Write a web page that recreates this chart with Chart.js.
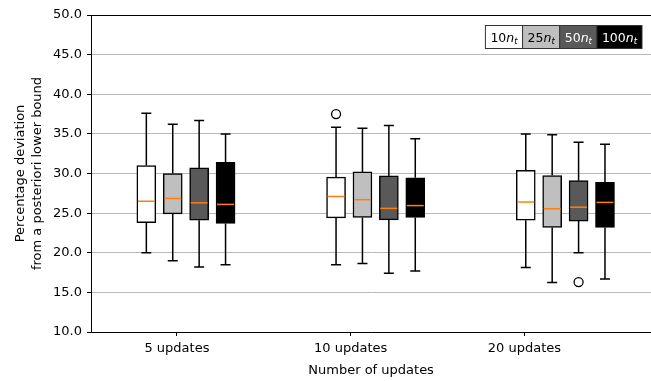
<!DOCTYPE html>
<html>
<head>
<meta charset="utf-8">
<script src="https://cdn.jsdelivr.net/npm/chart.js@4.4.1/dist/chart.umd.min.js"></script>
<style>
  html, body { margin: 0; padding: 0; background: #fff; overflow: hidden; }
  #wrap { width: 651px; height: 381px; overflow: hidden; }
</style>
</head>
<body>
<div id="wrap"><canvas id="chart" width="657" height="381"></canvas></div>
<script>
// Categorías y series
const categories = ['5 updates', '10 updates', '20 updates'];
const seriesNames = ['10', '25', '50', '100'];
const yTicks = [10, 15, 20, 25, 30, 35, 40, 45, 50];

// Estadísticos de cada caja, [serie][grupo]
const lowWhisker = [[20.0, 18.5, 18.15], [19.0, 18.65, 16.25], [18.2, 17.4, 20.0], [18.5, 17.7, 16.7]];
const q1 = [[23.8, 24.4, 24.1], [24.9, 24.45, 23.2], [24.1, 24.15, 24.0], [23.7, 24.45, 23.2]];
const median = [[26.5, 27.1, 26.4], [26.85, 26.7, 25.55], [26.3, 25.6, 25.75], [26.1, 25.95, 26.35]];
const q3 = [[31.0, 29.55, 30.4], [30.0, 30.2, 29.75], [30.7, 29.7, 29.1], [31.4, 29.45, 28.9]];
const highWhisker = [[37.6, 35.85, 35.0], [36.2, 35.7, 34.9], [36.7, 36.05, 33.95], [35.0, 34.4, 33.7]];

// Valores atípicos
const outlierSeries = [0, 2];
const outlierGroup = [1, 2];
const outlierValue = [37.5, 16.3];

const fills = ['#ffffff', '#bfbfbf', '#595959', '#000000'];
const textColors = ['#000000', '#000000', '#ffffff', '#ffffff'];
const FONT = 'DejaVu Sans';

// posición de cada caja en el eje x
function boxPos(s, g) {
    return 0.824 + g * 1.092 + s * 0.152;
}

const datasets = seriesNames.map(function(name, s) {
    return {
        type: 'bar',
        label: name,
        data: categories.map(function(c, g) { return { x: boxPos(s, g), y: [q1[s][g], q3[s][g]] }; }),
        backgroundColor: fills[s],
        borderColor: '#000000',
        borderWidth: 1.5,
        borderSkipped: false,
        barThickness: 19,
        grouped: false
    };
});

datasets.push({
    type: 'scatter',
    label: 'outliers',
    data: outlierValue.map(function(v, i) { return { x: boxPos(outlierSeries[i], outlierGroup[i]), y: v }; }),
    pointRadius: 4.5,
    pointBackgroundColor: 'rgba(0,0,0,0)',
    pointBorderColor: '#000000',
    pointBorderWidth: 1.3
});

// Bigotes, medianas, leyenda y borde superior
const boxPlugin = {
    id: 'boxExtras',
    afterDatasetsDraw: function(chart) {
        const ctx = chart.ctx;
        const xs = chart.scales.x, ys = chart.scales.y;
        ctx.save();
        seriesNames.forEach(function(name, s) {
            categories.forEach(function(c, g) {
                const x = xs.getPixelForValue(boxPos(s, g));
                ctx.strokeStyle = '#000000';
                ctx.lineWidth = 1.5;
                ctx.beginPath();
                ctx.moveTo(x, ys.getPixelForValue(q1[s][g]));
                ctx.lineTo(x, ys.getPixelForValue(lowWhisker[s][g]));
                ctx.moveTo(x, ys.getPixelForValue(q3[s][g]));
                ctx.lineTo(x, ys.getPixelForValue(highWhisker[s][g]));
                ctx.moveTo(x - 5, ys.getPixelForValue(lowWhisker[s][g]));
                ctx.lineTo(x + 5, ys.getPixelForValue(lowWhisker[s][g]));
                ctx.moveTo(x - 5, ys.getPixelForValue(highWhisker[s][g]));
                ctx.lineTo(x + 5, ys.getPixelForValue(highWhisker[s][g]));
                ctx.stroke();
                ctx.strokeStyle = '#ff7f0e';
                ctx.beginPath();
                ctx.moveTo(x - 8.5, ys.getPixelForValue(median[s][g]));
                ctx.lineTo(x + 8.5, ys.getPixelForValue(median[s][g]));
                ctx.stroke();
            });
        });
        ctx.restore();
    },
    afterDraw: function(chart) {
        const ctx = chart.ctx;
        const area = chart.chartArea;
        ctx.save();
        // borde superior
        ctx.strokeStyle = '#000000';
        ctx.lineWidth = 1;
        ctx.beginPath();
        ctx.moveTo(area.left, area.top + 0.5);
        ctx.lineTo(area.right, area.top + 0.5);
        ctx.stroke();

        // leyenda
        const mainFont = '12.5px "' + FONT + '"';
        const italFont = 'italic 12.5px "' + FONT + '"';
        const subFont = 'italic 8.5px "' + FONT + '"';
        const widths = seriesNames.map(function(name) {
            ctx.font = mainFont; let w = ctx.measureText(name).width;
            ctx.font = italFont; w += ctx.measureText('n').width;
            ctx.font = subFont; w += ctx.measureText('t').width;
            return w + 10;
        });
        const total = widths.reduce(function(a, b) { return a + b; }, 0);
        let x = 642 - total;
        const top = area.top + 10.5, h = 23;
        seriesNames.forEach(function(name, s) {
            ctx.fillStyle = fills[s];
            ctx.fillRect(x, top, widths[s], h);
            ctx.strokeStyle = '#333333';
            ctx.strokeRect(x, top, widths[s], h);
            ctx.fillStyle = textColors[s];
            ctx.textBaseline = 'alphabetic';
            let tx = x + 5;
            const base = top + 16;
            ctx.font = mainFont; ctx.fillText(name, tx, base); tx += ctx.measureText(name).width;
            ctx.font = italFont; ctx.fillText('n', tx, base); tx += ctx.measureText('n').width;
            ctx.font = subFont; ctx.fillText('t', tx, base + 2.5);
            x += widths[s];
        });
        ctx.restore();
    }
};

document.addEventListener("DOMContentLoaded", function() {
    const ctx = document.getElementById('chart').getContext('2d');
    new Chart(ctx, {
        type: 'bar',
        data: { datasets: datasets },
        plugins: [boxPlugin],
        options: {
            responsive: false,
            devicePixelRatio: 1,
            animation: false,
            layout: { padding: { top: 15, left: 0, right: 0, bottom: 0 } },
            plugins: { legend: { display: false }, tooltip: { enabled: false } },
            scales: {
                x: {
                    type: 'linear',
                    offset: false,
                    min: 0.5055,
                    max: 3.73,
                    afterBuildTicks: function(scale) {
                        scale.ticks = categories.map(function(c, i) { return { value: i + 1 }; });
                    },
                    afterFit: function(scale) { scale.height = 49; },
                    ticks: {
                        autoSkip: false,
                        maxRotation: 0,
                        color: '#000000',
                        padding: 5,
                        font: { family: FONT, size: 13 },
                        callback: function(v) { return categories[Math.round(v) - 1]; }
                    },
                    grid: { offset: false, drawOnChartArea: false, tickColor: '#000000', tickLength: 4 },
                    border: { color: '#000000', width: 1 },
                    title: {
                        display: true,
                        text: 'Number of updates',
                        color: '#000000',
                        font: { family: FONT, size: 13 },
                        padding: { top: 0, bottom: 3 }
                    }
                },
                y: {
                    min: 10,
                    max: 50,
                    afterBuildTicks: function(scale) {
                        scale.ticks = yTicks.map(function(v) { return { value: v }; });
                    },
                    afterFit: function(scale) { scale.width = 91; },
                    ticks: {
                        color: '#000000',
                        padding: 5,
                        font: { family: FONT, size: 13 },
                        callback: function(v) { return Number(v).toFixed(1); }
                    },
                    grid: { color: '#b8b8b8', tickColor: '#000000', tickLength: 4, lineWidth: 1 },
                    border: { color: '#000000', width: 1 },
                    title: {
                        display: true,
                        text: ['Percentage deviation', 'from a posteriori lower bound'],
                        color: '#000000',
                        font: { family: FONT, size: 13, lineHeight: 1.3 },
                        padding: { top: 12, bottom: 0 }
                    }
                }
            }
        }
    });
});
</script>
</body>
</html>
